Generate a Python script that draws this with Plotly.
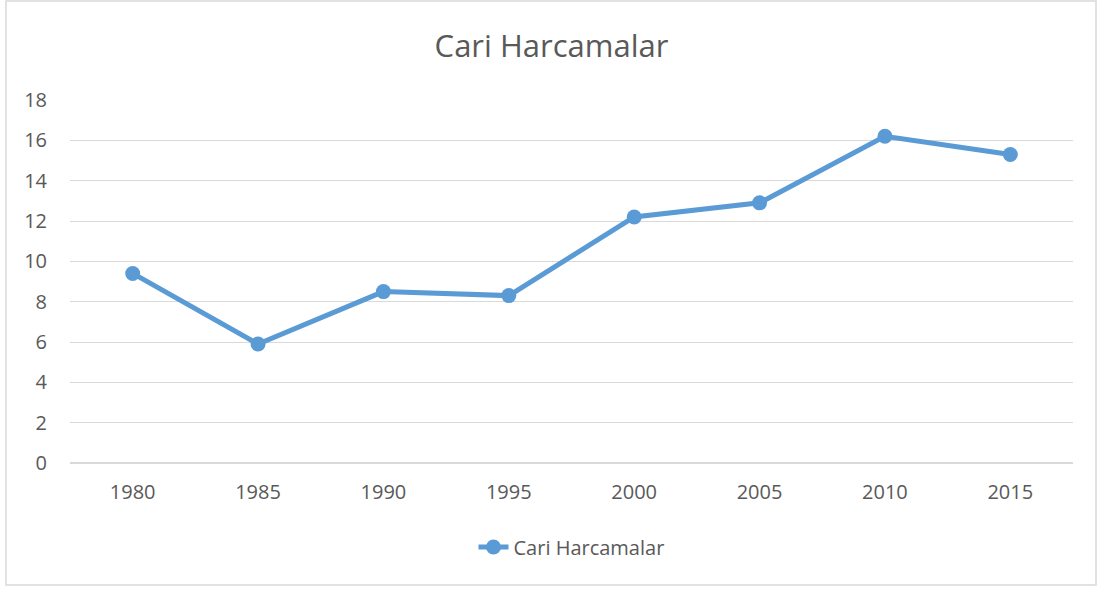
import plotly.graph_objects as go

years = ["1980", "1985", "1990", "1995", "2000", "2005", "2010", "2015"]
values = [9.4, 5.9, 8.5, 8.3, 12.2, 12.9, 16.2, 15.3]
series_name = "Cari Harcamalar"
y_ticks = [0, 2, 4, 6, 8, 10, 12, 14, 16, 18]

W, H = 1103, 590
L, R, T, B = 70, 30, 100, 127
pw, ph = W - L - R, H - T - B

fig = go.Figure()
fig.add_trace(go.Scatter(
    x=years, y=values, name=series_name, mode="lines+markers",
    line=dict(color="#5B9BD5", width=5),
    marker=dict(color="#5B9BD5", size=15),
))

font = "Open Sans, Lato, sans-serif"
fig.update_layout(
    width=W, height=H,
    margin=dict(l=L, r=R, t=T, b=B),
    paper_bgcolor="white", plot_bgcolor="white",
    title=dict(text="Cari Harcamalar", x=0.5, xanchor="center",
               y=1 - 46 / H, yanchor="middle",
               font=dict(family=font, size=31, color="#595959")),
    showlegend=True,
    legend=dict(orientation="h", x=0.5, xanchor="center",
                y=(463 - 547) / ph, yanchor="middle",
                font=dict(family=font, size=20, color="#595959")),
    xaxis=dict(type="category", range=[-0.5, 7.5], showgrid=False,
               showline=False, ticks="", zeroline=False,
               ticklabelstandoff=15,
               tickfont=dict(family=font, size=20, color="#595959")),
    yaxis=dict(range=[0, 18], tickvals=y_ticks, showgrid=True,
               gridcolor="#d9d9d9", gridwidth=1, zeroline=True,
               zerolinecolor="#d9d9d9", zerolinewidth=1.5,
               showline=False, ticks="", ticklabelstandoff=22,
               tickfont=dict(family=font, size=20, color="#595959")),
)
fig.add_shape(type="rect", xref="paper", yref="paper",
              x0=(6 - L) / pw, x1=(1096 - L) / pw,
              y0=(463 - 585) / ph, y1=(463 - 1) / ph,
              line=dict(color="#d9d9d9", width=1.5), layer="below")

fig.write_html("out.html", config={"displayModeBar": False},
               post_script="document.body.style.margin='0';document.body.style.overflow='hidden';")
